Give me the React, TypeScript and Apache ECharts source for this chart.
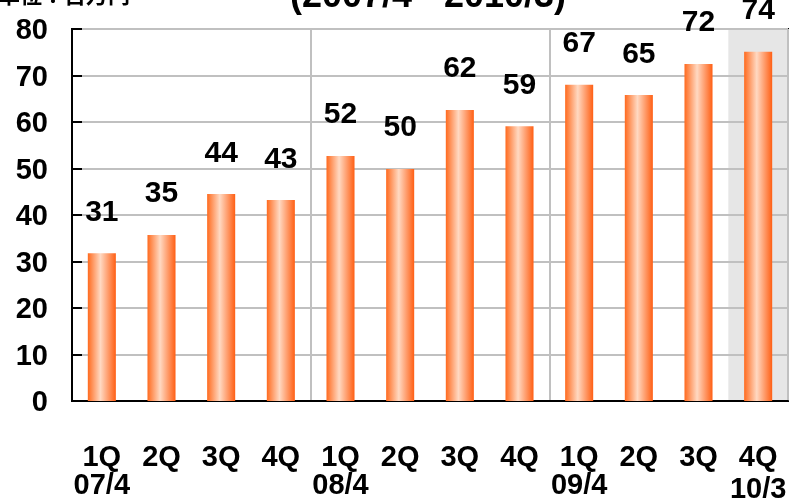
import React, { useEffect, useRef } from "react";
import * as echarts from "echarts";

const quarters = ["1Q", "2Q", "3Q", "4Q", "1Q", "2Q", "3Q", "4Q", "1Q", "2Q", "3Q", "4Q"];
const years = ["07/4", "", "", "", "08/4", "", "", "", "09/4", "", "", "10/3"];
const barValues = [31.8, 35.7, 44.5, 43.2, 52.7, 49.9, 62.6, 59.1, 68.0, 65.8, 72.5, 75.1];
const labelValues = [31, 35, 44, 43, 52, 50, 62, 59, 67, 65, 72, 74];
const shadeValues = [null, null, null, null, null, null, null, null, null, null, null, 80];
const yTicks = { min: 0, max: 80, interval: 10 };
const titleText = "(2007/4 - 2010/3)";
const unitText = "単位：百万円";

const FONT = "'Liberation Sans', Arial, sans-serif";

export default function App() {
  const ref = useRef<HTMLDivElement>(null);
  useEffect(() => {
    if (!ref.current) return;
    const chart = echarts.init(ref.current, undefined, { renderer: "svg" });
    const cats = quarters.map((q, i) => i);
    chart.setOption({
      animation: false,
      grid: {
        left: 72,
        right: 5,
        top: 29,
        bottom: 98,
        containLabel: false,
        outerBoundsMode: "none",
        show: true,
        borderColor: "#000",
        borderWidth: 2,
        backgroundColor: "transparent",
      },
      graphic: [
        {
          type: "text",
          x: -2,
          y: 4,
          style: {
            text: unitText,
            fontSize: 22,
            fontWeight: "bold",
            fontFamily: "'Noto Sans CJK JP', sans-serif",
            fill: "#000",
            verticalAlign: "bottom",
          },
        },
        {
          type: "text",
          x: 428,
          y: 12,
          style: {
            text: titleText,
            fontSize: 36,
            fontWeight: "bold",
            fontFamily: FONT,
            fill: "#000",
            align: "center",
            verticalAlign: "bottom",
          },
        },
      ],
      xAxis: [
        {
          type: "category",
          data: cats,
          boundaryGap: true,
          axisLine: { show: true, lineStyle: { color: "#000", width: 2 } },
          axisTick: { show: false },
          splitLine: {
            show: true,
            interval: (index: number) => index === 4 || index === 8,
            lineStyle: { color: "#c0c0c0", width: 2 },
          },
          axisLabel: {
            interval: 0,
            margin: 41,
            hideOverlap: false,
            formatter: (v: string, i: number) => {
              const q = quarters[i];
              const y = years[i];
              if (i === quarters.length - 1) return `{q|${q}}\n{yl|${y}}`;
              return `{q|${q}}\n{y|${y}}`;
            },
            rich: {
              q: { fontSize: 29, fontWeight: "bold", fontFamily: FONT, color: "#000", lineHeight: 28 },
              y: { fontSize: 29, fontWeight: "bold", fontFamily: FONT, color: "#000", lineHeight: 28 },
              yl: { fontSize: 29, fontWeight: "bold", fontFamily: FONT, color: "#000", lineHeight: 28, padding: [8, 0, 0, 0] },
            },
          },
        },
        {
          type: "category",
          data: cats,
          show: false,
          boundaryGap: true,
        },
      ],
      yAxis: {
        type: "value",
        min: yTicks.min,
        max: yTicks.max,
        interval: yTicks.interval,
        axisLine: { show: true, lineStyle: { color: "#000", width: 2 } },
        axisTick: { show: true, inside: true, length: 10, lineStyle: { color: "#000", width: 2 } },
        splitLine: { show: true, lineStyle: { color: "#c0c0c0", width: 2 } },
        axisLabel: {
          margin: 24,
          fontSize: 29,
          fontWeight: "bold",
          fontFamily: FONT,
          color: "#000",
        },
      },
      series: [
        {
          type: "bar",
          xAxisIndex: 1,
          data: shadeValues,
          barWidth: "100%",
          z: -1,
          silent: true,
          itemStyle: { color: "#e6e6e6" },
        },
        {
          type: "bar",
          xAxisIndex: 0,
          data: barValues,
          barWidth: "47%",
          itemStyle: {
            color: new echarts.graphic.LinearGradient(0, 0, 1, 0, [
              { offset: 0, color: "#ff6a1e" },
              { offset: 0.45, color: "#ffd9c2" },
              { offset: 1, color: "#ff5f14" },
            ]),
          },
          label: {
            show: true,
            position: "top",
            distance: 28,
            fontSize: 30,
            fontWeight: "bold",
            fontFamily: FONT,
            color: "#000",
            formatter: (p: any) => String(labelValues[p.dataIndex]),
          },
        },
      ],
    });
    return () => chart.dispose();
  }, []);
  return (
    <div
      ref={ref}
      style={{ position: "fixed", left: 0, top: 0, width: 793, height: 499 }}
    />
  );
}
